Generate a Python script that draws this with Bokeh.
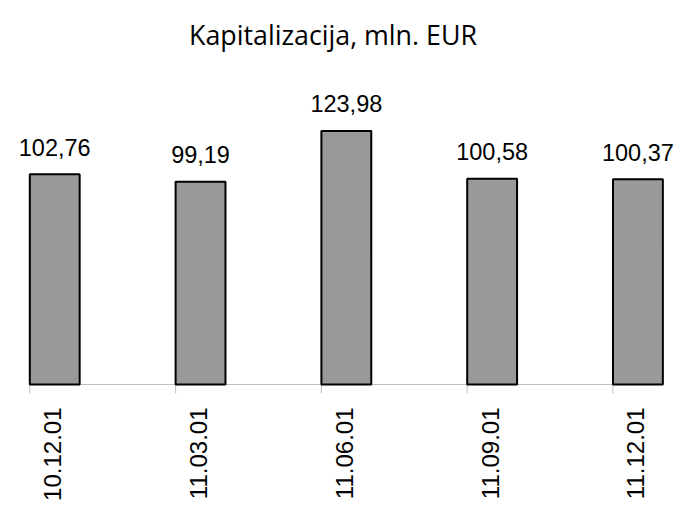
import math
from bokeh.plotting import figure
from bokeh.models import ColumnDataSource, LabelSet, Label, Range1d
from bokeh.core.properties import value
from bokeh.embed import file_html
from bokeh.resources import INLINE

# ---- data ----
dates = ["10.12.01", "11.03.01", "11.06.01", "11.09.01", "11.12.01"]
values = [102.76, 99.19, 123.98, 100.58, 100.37]
title_text = "Kapitalizacija, mln. EUR"

# ---- layout constants (pixels) ----
W, H = 677, 502
PX_PER_CAT = 145.8       # horizontal pixels per category step
PX_PER_UNIT = 2.045      # vertical pixels per value unit
LEFT_PAD = 29.3          # canvas x of first bar's left edge
BASE_Y = 384             # canvas y of the baseline
BAR_W = 0.342

# ---- derived ----
n = len(dates)
idx = list(range(n))
centers = [i + BAR_W / 2 for i in idx]
value_text = [f"{v:.2f}".replace(".", ",") for v in values]
zeros = [0] * n

src = ColumnDataSource(dict(x=centers, top=values, vlab=value_text, d=dates, z=zeros))
tick_src = ColumnDataSource(dict(x=idx, y=zeros))

x_start = -LEFT_PAD / PX_PER_CAT
x_end = (W - LEFT_PAD) / PX_PER_CAT
y_start = -(H - BASE_Y) / PX_PER_UNIT
y_end = BASE_Y / PX_PER_UNIT

p = figure(width=W, height=H, output_backend="svg", toolbar_location=None,
           x_range=Range1d(x_start, x_end), y_range=Range1d(y_start, y_end),
           min_border=0, min_border_left=0, min_border_right=0,
           min_border_top=0, min_border_bottom=0,
           x_axis_type=None, y_axis_type=None)

p.xgrid.visible = False
p.ygrid.visible = False
p.outline_line_color = None
p.background_fill_color = "white"
p.border_fill_color = "white"

# category axis line and ticks
p.segment(x0=[0], y0=[0], x1=[n - 1 + BAR_W], y1=[0], line_color="#bfbfbf", line_width=1)
p.ray(x="x", y="y", length=9, length_units="screen", angle=-math.pi / 2,
      source=tick_src, line_color="#bfbfbf", line_width=1)

# bars
p.vbar(x="x", top="top", width=BAR_W, bottom=0, source=src,
       fill_color="#999999", line_color="#000000", line_width=2)

# value labels
vlabels = LabelSet(x="x", y="top", text="vlab", source=src, y_offset=18.5,
                   text_align="center", text_baseline="alphabetic",
                   text_font=value("Liberation Sans"), text_font_size=value("23.5px"),
                   text_color="#000000")
p.add_layout(vlabels)

# category labels (rotated)
dlabels = LabelSet(x="x", y="z", text="d", source=src, y_offset=-23, x_offset=-2,
                   angle=math.pi / 2, text_align="right", text_baseline="middle",
                   text_font=value("Liberation Sans"), text_font_size=value("24px"),
                   text_color="#000000")
p.add_layout(dlabels)

# title
title = Label(x=(x_start + x_end) / 2, y=y_end, y_offset=-34, x_offset=-6,
              text=title_text, text_align="center", text_baseline="alphabetic",
              text_font="Open Sans", text_font_size="26.8px", text_color="#000000")
p.add_layout(title)

open("out.html", "w").write(file_html(p, INLINE))
